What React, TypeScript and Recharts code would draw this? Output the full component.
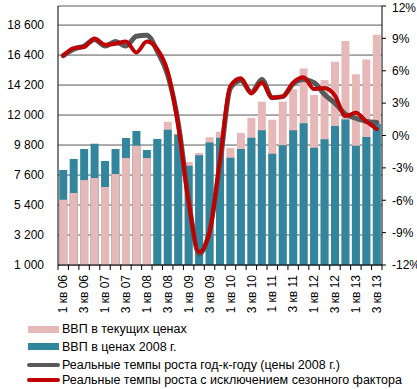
import React from 'react';
import { ComposedChart, Bar, Line, XAxis, YAxis, CartesianGrid, Cell } from 'recharts';

// quarters 2006 Q1 .. 2013 Q3
const quarters = [
  '1 кв 06', '2 кв 06', '3 кв 06', '4 кв 06',
  '1 кв 07', '2 кв 07', '3 кв 07', '4 кв 07',
  '1 кв 08', '2 кв 08', '3 кв 08', '4 кв 08',
  '1 кв 09', '2 кв 09', '3 кв 09', '4 кв 09',
  '1 кв 10', '2 кв 10', '3 кв 10', '4 кв 10',
  '1 кв 11', '2 кв 11', '3 кв 11', '4 кв 11',
  '1 кв 12', '2 кв 12', '3 кв 12', '4 кв 12',
  '1 кв 13', '2 кв 13', '3 кв 13',
];

// ВВП в текущих ценах, млрд руб.
const gdpNominal = [
  5790, 6280, 7230, 7380, 6720, 7670, 8850, 9750,
  8850, 10260, 11510, 10630, 8560, 9220, 10370, 10780,
  9590, 10680, 11810, 12980, 11650, 13000, 13900, 15420,
  13470, 14570, 15910, 17430, 14990, 16080, 17890,
];

// ВВП в ценах 2008 г.
const gdpReal = [
  7970, 8770, 9510, 9900, 8630, 9510, 10310, 10830,
  9430, 10240, 10920, 10580, 8280, 9050, 9980, 10340,
  8860, 9510, 10340, 10890, 9160, 9790, 10890, 11400,
  9600, 10230, 11190, 11680, 9750, 10390, 11340,
];

// год-к-году, %
const growthYoY = [
  7.4, 8.0, 8.3, 8.9, 8.3, 8.7, 8.3, 9.2,
  9.3, 7.8, 5.6, 1.2, -6.0, -11.0, -8.8, -2.6,
  4.4, 5.1, 4.0, 5.2, 3.5, 3.6, 4.8, 5.2,
  4.9, 3.8, 3.0, 2.0, 1.6, 1.3, 1.2,
];

// с исключением сезонного фактора, %
const growthSA = [
  7.4, 8.1, 8.2, 9.0, 8.4, 8.5, 8.7, 7.7,
  8.7, 8.0, 5.9, 0.9, -6.2, -10.8, -9.0, -2.2,
  4.6, 5.3, 3.9, 4.9, 3.5, 3.6, 4.9, 5.4,
  4.3, 4.4, 3.7, 1.8, 2.1, 1.3, 0.6,
];

const leftTicks = [1000, 3200, 5400, 7600, 9800, 12000, 14200, 16400, 18600];
const rightTicks = [-12, -9, -6, -3, 0, 3, 6, 9, 12];

const data = quarters.map((q, i) => ({
  q,
  nominal: gdpNominal[i],
  real: gdpReal[i],
  yoy: growthYoY[i],
  sa: growthSA[i],
}));

const W = 417;
const H = 389;
const LEFT_W = 58;
const RIGHT_W = 35;
const TOP = 6;
const X_H = 124;
const band = (W - LEFT_W - RIGHT_W) / quarters.length;

const PINK = '#e6b9b8';
const TEAL = '#31859c';
const GRAY = '#595959';
const RED = '#c00000';
const FONT = 'Arial, "Liberation Sans", sans-serif';

const fmtThousands = (v: number) => String(v).replace(/\B(?=(\d{3})+(?!\d))/g, ' ');

const QuarterTick = (props: any) => {
  const { x, y, payload, index } = props;
  return (
    <g>
      <line x1={x - band / 2} y1={y} x2={x - band / 2} y2={y + 5} stroke="#000" />
      {index === quarters.length - 1 && (
        <line x1={x + band / 2} y1={y} x2={x + band / 2} y2={y + 5} stroke="#000" />
      )}
      {index % 2 === 0 && (
        <text
          transform={`translate(${x},${y + 10}) rotate(-90)`}
          textAnchor="end"
          dy="0.35em"
          fontSize={12}
          fontFamily={FONT}
          fill="#000"
        >
          {payload.value}
        </text>
      )}
    </g>
  );
};

const legendItems = [
  { label: 'ВВП в текущих ценах', color: PINK, kind: 'rect', y: 329 },
  { label: 'ВВП в ценах 2008 г.', color: TEAL, kind: 'rect', y: 346.5 },
  { label: 'Реальные темпы роста год-к-году (цены 2008 г.)', color: GRAY, kind: 'line', y: 364.5 },
  { label: 'Реальные темпы роста с исключением сезонного фактора', color: RED, kind: 'line', y: 379.5 },
];

export default function App() {
  return (
    <div style={{ position: 'absolute', left: 0, top: 0, width: W, height: H, fontFamily: FONT }}>
      <ComposedChart
        width={W}
        height={H}
        data={data}
        margin={{ top: TOP, right: 0, bottom: 0, left: 0 }}
        barCategoryGap="12%"
      >
        <CartesianGrid xAxisId="a" yAxisId="left" vertical={false} stroke={GRAY} />
        <XAxis
          xAxisId="a"
          dataKey="q"
          interval={0}
          height={X_H}
          tickSize={0}
          tickMargin={0}
          tick={<QuarterTick />}
          axisLine={{ stroke: '#000' }}
          tickLine={false}
        />
        <XAxis xAxisId="b" dataKey="q" hide />
        <XAxis xAxisId="c" dataKey="q" hide />
        <YAxis
          yAxisId="left"
          width={LEFT_W}
          domain={[1000, 20000]}
          ticks={leftTicks}
          tickFormatter={fmtThousands}
          tickLine={false}
          tickMargin={8}
          axisLine={{ stroke: '#000' }}
          tick={{ fill: '#000', fontSize: 12, fontFamily: FONT }}
        />
        <YAxis
          yAxisId="right"
          orientation="right"
          width={RIGHT_W}
          domain={[-12, 12]}
          ticks={rightTicks}
          tickFormatter={(v: number) => `${v}%`}
          tickSize={4}
          tickMargin={6}
          tickLine={{ stroke: '#000' }}
          axisLine={{ stroke: '#000' }}
          tick={{ fill: '#000', fontSize: 12, fontFamily: FONT, textAnchor: 'start' }}
        />
        <Bar xAxisId="a" yAxisId="left" dataKey="nominal" fill={PINK} isAnimationActive={false} />
        <Bar xAxisId="b" yAxisId="left" dataKey="real" fill={TEAL} isAnimationActive={false} />
        <Bar xAxisId="c" yAxisId="left" dataKey="nominal" isAnimationActive={false}>
          {data.map((d, i) => (
            <Cell key={`front-${i}`} fill={d.nominal < d.real ? PINK : 'none'} />
          ))}
        </Bar>
        <Line
          xAxisId="a"
          yAxisId="right"
          type="monotone"
          dataKey="yoy"
          stroke={GRAY}
          strokeWidth={5}
          strokeLinecap="round"
          dot={false}
          activeDot={false}
          isAnimationActive={false}
        />
        <Line
          xAxisId="a"
          yAxisId="right"
          type="monotone"
          dataKey="sa"
          stroke={RED}
          strokeWidth={4}
          strokeLinecap="round"
          dot={false}
          activeDot={false}
          isAnimationActive={false}
        />
      </ComposedChart>
      {legendItems.map((item) => (
        <div
          key={item.label}
          style={{
            position: 'absolute',
            left: 27,
            top: item.y - 8,
            height: 16,
            display: 'flex',
            alignItems: 'center',
            fontSize: 12.5,
            color: '#000',
            whiteSpace: 'nowrap',
          }}
        >
          <span
            style={{
              display: 'inline-block',
              width: item.kind === 'rect' ? 31 : 33,
              height: item.kind === 'rect' ? 7 : 4,
              background: item.color,
              marginLeft: item.kind === 'rect' ? 1 : 0,
              marginRight: item.kind === 'rect' ? 3 : 2,
              borderRadius: item.kind === 'line' ? 2 : 0,
            }}
          />
          <span>{item.label}</span>
        </div>
      ))}
    </div>
  );
}
